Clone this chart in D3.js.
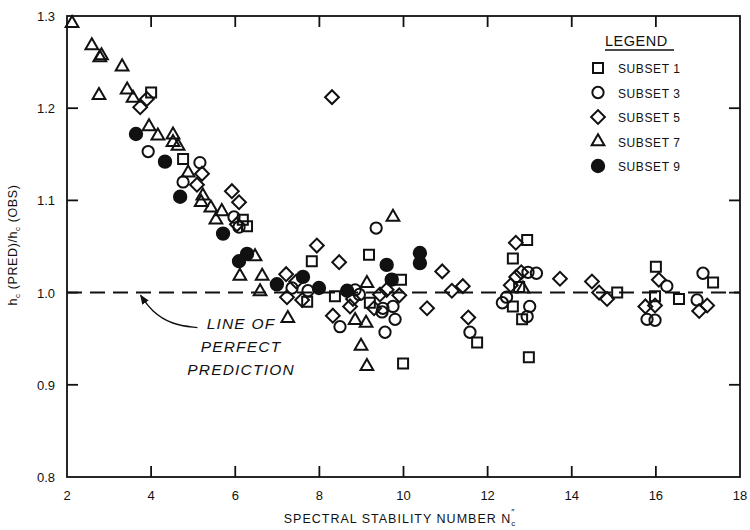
<!DOCTYPE html>
<html lang="en">
<head>
  <meta charset="UTF-8">
  <title>Spectral stability number vs prediction ratio</title>
  <script src="https://d3js.org/d3.v7.min.js"></script>
  <style>
    body { margin: 0; background: #fff; font-family: "Liberation Sans", Arial, sans-serif; }
    svg text { fill: #111; }
  </style>
</head>
<body>
  <div id="chart"></div>
  <script>
    // data: [N_c'', hc(PRED)/hc(OBS)]
    const subset1 = [
      [4.00, 1.217], [4.76, 1.145], [6.18, 1.079], [6.28, 1.072], [7.82, 1.034],
      [7.71, 0.990], [8.37, 0.996], [9.18, 1.041], [9.20, 0.989], [9.94, 1.014],
      [9.99, 0.923], [11.75, 0.946], [12.60, 1.037], [12.94, 1.057], [12.60, 0.985],
      [12.82, 0.971], [12.98, 0.930], [12.75, 1.006], [15.08, 1.000], [16.00, 1.028],
      [15.98, 0.996], [16.55, 0.993], [17.36, 1.011]
    ];
    const subset3 = [
      [3.93, 1.153], [4.76, 1.120], [5.16, 1.141], [5.97, 1.082], [6.09, 1.071],
      [7.73, 1.002], [7.35, 1.005], [8.49, 0.963], [8.85, 1.003], [8.95, 0.998],
      [9.35, 1.070], [9.49, 0.979], [9.56, 0.957], [9.80, 0.971], [9.51, 0.983],
      [9.75, 0.985], [11.58, 0.957], [12.35, 0.989], [12.45, 0.995], [12.94, 0.974],
      [13.00, 0.985], [12.96, 1.022], [13.16, 1.021], [15.79, 0.971], [15.98, 0.970],
      [16.26, 1.007], [16.98, 0.992], [17.12, 1.021]
    ];
    const subset5 = [
      [3.74, 1.201], [3.90, 1.210], [5.09, 1.117], [5.21, 1.129], [5.92, 1.110],
      [6.09, 1.098], [6.04, 1.074], [7.21, 1.020], [7.23, 0.995], [7.59, 0.992],
      [7.45, 1.012], [7.94, 1.051], [8.30, 1.212], [8.47, 1.033], [8.32, 0.975],
      [8.73, 0.985], [8.80, 0.993], [9.30, 0.983], [9.44, 0.998], [9.60, 1.003],
      [9.90, 0.997], [10.56, 0.983], [10.92, 1.023], [11.15, 1.002], [11.41, 1.007],
      [11.54, 0.973], [12.55, 1.008], [12.68, 1.017], [12.67, 1.054], [12.80, 1.022],
      [13.72, 1.015], [14.48, 1.012], [14.65, 1.000], [14.84, 0.993], [15.75, 0.985],
      [15.98, 0.986], [16.07, 1.014], [17.03, 0.980], [17.22, 0.986]
    ];
    const subset7 = [
      [2.12, 1.292], [2.59, 1.268], [2.78, 1.255], [2.82, 1.257], [2.76, 1.214],
      [3.31, 1.245], [3.43, 1.220], [3.57, 1.211], [3.95, 1.180], [4.16, 1.170],
      [4.52, 1.171], [4.52, 1.163], [4.64, 1.159], [4.88, 1.130], [5.19, 1.098],
      [5.23, 1.105], [5.42, 1.092], [5.68, 1.088], [5.54, 1.079], [6.47, 1.039],
      [6.11, 1.018], [6.64, 1.018], [6.59, 1.001], [7.25, 0.972], [9.13, 1.010],
      [8.85, 0.970], [9.11, 0.967], [8.99, 0.942], [9.13, 0.920], [9.75, 1.082],
      [12.84, 1.004]
    ];
    const subset9 = [
      [3.64, 1.172], [4.33, 1.142], [4.69, 1.104], [5.71, 1.064], [6.28, 1.042],
      [6.09, 1.034], [6.99, 1.009], [7.61, 1.017], [7.99, 1.005], [8.66, 1.002],
      [9.60, 1.030], [9.72, 1.014], [10.39, 1.043], [10.39, 1.032]
    ];

    const xTicks = [2, 4, 6, 8, 10, 12, 14, 16, 18];
    const yTicks = [0.8, 0.9, 1.0, 1.1, 1.2, 1.3];
    const yTickLabels = ["0.8", "0.9", "1.0", "1.1", "1.2", "1.3"];
    const legendNames = ["SUBSET 1", "SUBSET 3", "SUBSET 5", "SUBSET 7", "SUBSET 9"];

    const width = 750, height = 530;
    const margin = { top: 16, right: 10, bottom: 53, left: 67 };

    const svg = d3.select("#chart").append("svg")
      .attr("width", width)
      .attr("height", height);

    const x = d3.scaleLinear().domain([2, 18]).range([margin.left, width - margin.right]);
    const y = d3.scaleLinear().domain([0.8, 1.3]).range([height - margin.bottom, margin.top]);

    // frame
    svg.append("rect")
      .attr("x", x(2)).attr("y", y(1.3))
      .attr("width", x(18) - x(2)).attr("height", y(0.8) - y(1.3))
      .attr("fill", "none").attr("stroke", "#111").attr("stroke-width", 1.8);

    // inward ticks on all four sides
    const tickLen = 11;
    const tickG = svg.append("g").attr("stroke", "#111").attr("stroke-width", 1.8);
    xTicks.slice(1, -1).forEach(v => {
      tickG.append("line").attr("x1", x(v)).attr("x2", x(v))
        .attr("y1", y(0.8)).attr("y2", y(0.8) - tickLen);
      tickG.append("line").attr("x1", x(v)).attr("x2", x(v))
        .attr("y1", y(1.3)).attr("y2", y(1.3) + tickLen);
    });
    yTicks.slice(1, -1).forEach(v => {
      tickG.append("line").attr("x1", x(2)).attr("x2", x(2) + tickLen)
        .attr("y1", y(v)).attr("y2", y(v));
      tickG.append("line").attr("x1", x(18)).attr("x2", x(18) - tickLen)
        .attr("y1", y(v)).attr("y2", y(v));
    });

    // tick labels
    svg.append("g").selectAll("text").data(xTicks).join("text")
      .attr("x", d => x(d)).attr("y", y(0.8) + 23)
      .attr("text-anchor", "middle").attr("font-size", 13)
      .text(d => d);
    svg.append("g").selectAll("text").data(yTicks).join("text")
      .attr("x", x(2) - 12).attr("y", d => y(d) + 5)
      .attr("text-anchor", "end").attr("font-size", 13)
      .text((d, i) => yTickLabels[i]);

    // axis titles
    const xt = svg.append("text")
      .attr("x", 400).attr("y", 523)
      .attr("text-anchor", "middle").attr("font-size", 12.5)
      .attr("letter-spacing", 1);
    xt.append("tspan").text("SPECTRAL STABILITY NUMBER  N");
    xt.append("tspan").attr("font-size", 8).attr("dy", 3).text("c");
    xt.append("tspan").attr("font-size", 9).attr("dy", -11).attr("dx", -5).text("\u2033");

    const yt = svg.append("text")
      .attr("transform", "translate(17,245) rotate(-90)")
      .attr("text-anchor", "middle").attr("font-size", 12.5)
      .attr("letter-spacing", 0.6);
    yt.append("tspan").text("h");
    yt.append("tspan").attr("font-size", 8).attr("dy", 3).text("c");
    yt.append("tspan").attr("dy", -3).text(" (PRED)/h");
    yt.append("tspan").attr("font-size", 8).attr("dy", 3).text("c");
    yt.append("tspan").attr("dy", -3).text(" (OBS)");

    // line of perfect prediction
    svg.append("line")
      .attr("x1", x(2)).attr("x2", x(18))
      .attr("y1", y(1.0)).attr("y2", y(1.0))
      .attr("stroke", "#111").attr("stroke-width", 2)
      .attr("stroke-dasharray", "15,8");

    svg.append("defs").append("marker")
      .attr("id", "arrow").attr("viewBox", "0 0 10 10")
      .attr("refX", 9).attr("refY", 5)
      .attr("markerWidth", 7).attr("markerHeight", 7)
      .attr("orient", "auto")
      .append("path").attr("d", "M0,1 L10,5 L0,9 Z").attr("fill", "#111");

    const arrowPts = [[x(5.1), y(0.962)], [x(4.5), y(0.965)], [x(4.0), y(0.98)], [x(3.75), y(0.997)]];
    svg.append("path")
      .attr("d", d3.line().curve(d3.curveBasis)(arrowPts))
      .attr("fill", "none").attr("stroke", "#111").attr("stroke-width", 1.4)
      .attr("marker-end", "url(#arrow)");

    const note = svg.append("g").attr("font-size", 15.5).attr("font-style", "italic")
      .attr("text-anchor", "middle").attr("letter-spacing", 1.2);
    ["LINE OF", "PERFECT", "PREDICTION"].forEach((t, i) => {
      note.append("text").attr("x", 241).attr("y", 329 + i * 23).text(t);
    });

    // markers
    const sym = (type, size) => d3.symbol().type(type).size(size)();
    const series = [
      { data: subset1, path: sym(d3.symbolSquare, 100), rot: 0, fill: "none" },
      { data: subset3, path: sym(d3.symbolCircle, 100), rot: 0, fill: "none" },
      { data: subset5, path: sym(d3.symbolSquare, 95), rot: 45, fill: "none" },
      { data: subset7, path: sym(d3.symbolTriangle, 70), rot: 0, fill: "none" },
      { data: subset9, path: sym(d3.symbolCircle, 120), rot: 0, fill: "#111" }
    ];

    series.forEach(s => {
      svg.append("g").selectAll("path").data(s.data).join("path")
        .attr("d", s.path)
        .attr("transform", d => `translate(${x(d[0])},${y(d[1])}) rotate(${s.rot})`)
        .attr("fill", s.fill)
        .attr("stroke", "#111").attr("stroke-width", 2);
    });

    // legend
    const lg = svg.append("g");
    lg.append("text").attr("x", 605).attr("y", 46)
      .attr("font-size", 14.5).attr("letter-spacing", 0.5).text("LEGEND");
    lg.append("line").attr("x1", 605).attr("x2", 674).attr("y1", 50).attr("y2", 50)
      .attr("stroke", "#111").attr("stroke-width", 1.3);
    const rowY = d3.scalePoint().domain(legendNames).range([68, 166]);
    legendNames.forEach((name, i) => {
      const s = series[i];
      lg.append("path").attr("d", s.path)
        .attr("transform", `translate(598,${rowY(name)}) rotate(${s.rot})`)
        .attr("fill", s.fill).attr("stroke", "#111").attr("stroke-width", 2);
      lg.append("text").attr("x", 618).attr("y", rowY(name) + 5)
        .attr("font-size", 12).attr("letter-spacing", 0.6).text(name);
    });
  </script>
</body>
</html>
